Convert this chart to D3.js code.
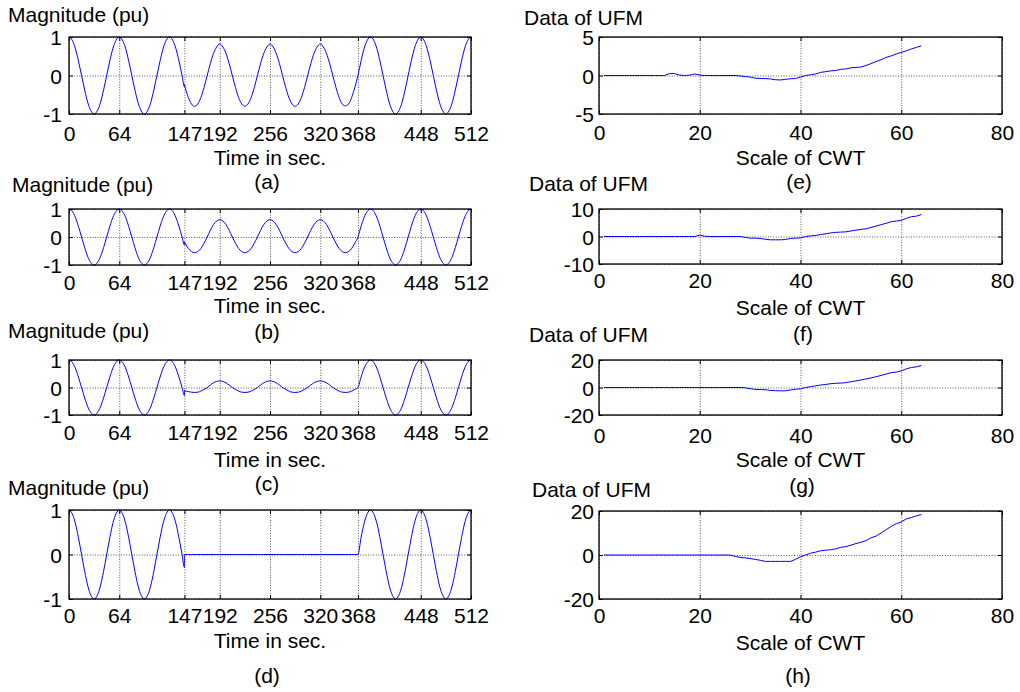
<!DOCTYPE html>
<html>
<head>
<meta charset="utf-8">
<script src="https://cdn.jsdelivr.net/npm/d3@7"></script>
<style>
  html, body { margin: 0; padding: 0; background: #fff; }
  svg { display: block; }
  text { font-family: "Liberation Sans", Arial, Helvetica, sans-serif; fill: #000; }
</style>
</head>
<body>
<svg id="chart" width="1020" height="692"></svg>
<script>
// ---------------- DATA ----------------
const timeTicks = [0, 64, 147, 192, 256, 320, 368, 448, 512];
const magTicks = [-1, 0, 1];
const scaleTicks = [0, 20, 40, 60, 80];

// sample positions (time index)
const headT = d3.range(0, 148, 4).concat([147]);      // 0..144, 147
const midT  = [147].concat(d3.range(148, 368, 4));    // 147, 148..364
const tailT = d3.range(368, 513, 4);                  // 368..512

// common leading / trailing portion of the signal (identical in a-d)
const headVals = [1,.92,.71,.38,0,-.38,-.71,-.92,-1,-.92,-.71,-.38,0,.38,.71,.92,
                  1,.92,.71,.38,0,-.38,-.71,-.92,-1,-.92,-.71,-.38,0,.38,.71,.92,
                  1,.92,.71,.38,0,-.29];
const tailVals = [0,.38,.71,.92,1,.92,.71,.38,0,-.38,-.71,-.92,-1,-.92,-.71,-.38,
                  0,.38,.71,.92,1,.92,.71,.38,0,-.38,-.71,-.92,-1,-.92,-.71,-.38,
                  0,.38,.71,.92,1];

// disturbed middle portion (147..364)
const midA = [-.23,
  -.31,-.57,-.74,-.8,-.74,-.57,-.31,0,.31,.57,.74,.82,.74,.57,.31,0,
  -.31,-.57,-.74,-.8,-.74,-.57,-.31,0,.31,.57,.74,.82,.74,.57,.31,0,
  -.31,-.57,-.74,-.8,-.74,-.57,-.31,0,.31,.57,.74,.82,.74,.57,.31,0,
  -.31,-.57,-.74,-.79,-.74,-.57,-.31];
const midB = [-.17,
  -.22,-.41,-.52,-.56,-.52,-.41,-.22,0,.24,.44,.57,.62,.57,.44,.24,0,
  -.22,-.41,-.52,-.56,-.52,-.41,-.22,0,.24,.44,.57,.62,.57,.44,.24,0,
  -.22,-.41,-.52,-.56,-.52,-.41,-.22,0,.24,.44,.57,.62,.57,.44,.24,0,
  -.22,-.41,-.52,-.56,-.52,-.41,-.22];
const midC = [-.1,
  -.12,-.15,-.17,-.18,-.17,-.13,-.07,0,.09,.17,.22,.24,.22,.17,.09,0,
  -.07,-.13,-.17,-.18,-.17,-.13,-.07,0,.09,.17,.22,.24,.22,.17,.09,0,
  -.07,-.13,-.17,-.18,-.17,-.13,-.07,0,.09,.17,.22,.24,.22,.17,.09,0,
  -.07,-.13,-.17,-.18,-.17,-.13,-.07];
const midD = [0,
  0,0,0,0,0,0,0,0,0,0,0,0,0,0,0,0,
  0,0,0,0,0,0,0,0,0,0,0,0,0,0,0,0,
  0,0,0,0,0,0,0,0,0,0,0,0,0,0,0,0,
  0,0,0,0,0,0,0];

// UFM data versus CWT scale (scale 1..64)
const cwtScale = d3.range(1, 65);
const ufmE = [0,0,0,0,0,0,0,0,0,0,0,0,0,.25,.25,.05,0,.05,.2,.05,
  0,0,0,0,0,0,0,-.05,-.15,-.2,-.35,-.38,-.4,-.45,-.55,-.58,-.5,-.42,-.4,-.2,
  0,.1,.2,.4,.5,.6,.65,.8,.85,1,1.05,1.1,1.3,1.55,1.8,2.05,2.35,2.55,2.8,3,
  3.2,3.45,3.65,3.85];
const ufmF = [0,0,0,0,0,0,0,0,0,0,0,0,0,0,0,0,0,0,0,.5,
  .1,0,0,0,0,0,0,0,-.3,-.6,-.6,-.7,-1,-1.2,-1.2,-1.2,-1.1,-.7,-.6,-.5,
  0,.2,.4,.7,1,1.3,1.5,1.6,1.7,2,2.3,2.6,2.8,3.3,3.8,4.3,4.8,5.4,5.6,5.9,
  6.6,7.2,7.4,8];
const ufmG = [0,0,0,0,0,0,0,0,0,0,0,0,0,0,0,0,0,0,0,0,
  0,0,0,0,0,0,0,0,-.2,-.8,-1.4,-1.5,-1.6,-2.1,-2.3,-2.4,-2.4,-1.8,-1.3,-1,
  0,.6,1.2,1.8,2.2,2.8,3.1,3.2,3.5,4.2,4.8,5.5,6.2,7,7.8,8.8,9.8,10.8,11.2,12.1,
  13.5,14.6,15,16];
const ufmH = [0,0,0,0,0,0,0,0,0,0,0,0,0,0,0,0,0,0,0,0,
  0,0,0,0,0,0,-.6,-1.1,-1.3,-1.6,-2,-2.4,-2.9,-2.9,-2.9,-2.9,-2.9,-2.9,-2,-.8,
  0,.8,1.3,1.9,2.2,2.4,2.8,3.5,3.8,4.5,5.2,5.8,6.5,7.8,8.6,10,11.5,13,14.2,15,
  16.4,17,17.8,18.4];

const ufmDomains = { e: [-5, 5], f: [-10, 10], g: [-20, 20], h: [-20, 20] };
const ufmTicks   = { e: [-5, 0, 5], f: [-10, 0, 10], g: [-20, 0, 20], h: [-20, 0, 20] };

// ---------------- LAYOUT ----------------
const L = { x0: 69, x1: 471, pad: 7, capX: 267 };
const R = { x0: 599, x1: 1002, pad: 5 };

const leftPanels = [
  { id: 'a', mid: midA, top: 37,  bottom: 114, ylx: 8,  yly: 22,  tickY: 141, xlabY: 165, capY: 189 },
  { id: 'b', mid: midB, top: 209, bottom: 265, ylx: 12, yly: 192, tickY: 290, xlabY: 313, capY: 339 },
  { id: 'c', mid: midC, top: 360, bottom: 415, ylx: 8,  yly: 338, tickY: 440, xlabY: 467, capY: 491 },
  { id: 'd', mid: midD, top: 510, bottom: 599, ylx: 8,  yly: 495, tickY: 623, xlabY: 648, capY: 683 }
];
const rightPanels = [
  { id: 'e', vals: ufmE, top: 37,  bottom: 114, ylx: 524, yly: 25,  tickY: 140, xlabY: 165, capY: 189, capX: 799 },
  { id: 'f', vals: ufmF, top: 209, bottom: 264, ylx: 529, yly: 191, tickY: 288, xlabY: 315, capY: 341, capX: 803 },
  { id: 'g', vals: ufmG, top: 360, bottom: 415, ylx: 529, yly: 342, tickY: 443, xlabY: 467, capY: 493, capX: 802 },
  { id: 'h', vals: ufmH, top: 511, bottom: 599, ylx: 532, yly: 497, tickY: 623, xlabY: 650, capY: 683, capX: 798 }
];

const FS = 21;
const svg = d3.select('#chart');
const plain = d => String(d);   // hyphen-minus like the reference

function drawFrame(g, x, y, xTicks, yTicks, x0, x1, top, bottom, tickY, pad) {
  const w = x1 - x0, h = bottom - top;
  // grid
  const grid = g.append('g').attr('class', 'grid');
  grid.append('g').attr('transform', `translate(0,${bottom})`)
    .call(d3.axisBottom(x).tickValues(xTicks).tickSize(-h).tickFormat('').tickSizeOuter(0))
    .call(s => s.select('.domain').remove());
  grid.append('g').attr('transform', `translate(${x0},0)`)
    .call(d3.axisLeft(y).tickValues(yTicks).tickSize(-w).tickFormat('').tickSizeOuter(0))
    .call(s => s.select('.domain').remove());
  grid.selectAll('line').attr('stroke', '#444').attr('stroke-width', 0.9).attr('stroke-dasharray', '1,1.6');

  // tick axes (inward ticks)
  const bx = g.append('g').attr('transform', `translate(0,${bottom})`)
    .call(d3.axisBottom(x).tickValues(xTicks).tickSize(-4).tickSizeOuter(0).tickFormat(plain));
  bx.selectAll('text').attr('y', tickY - bottom).attr('dy', null).style('font-size', FS + 'px');
  const tx = g.append('g').attr('transform', `translate(0,${top})`)
    .call(d3.axisTop(x).tickValues(xTicks).tickSize(-4).tickSizeOuter(0).tickFormat(''));
  const ly = g.append('g').attr('transform', `translate(${x0},0)`)
    .call(d3.axisLeft(y).tickValues(yTicks).tickSize(-4).tickPadding(pad + 4).tickSizeOuter(0).tickFormat(plain));
  ly.selectAll('text').attr('x', -pad).attr('dy', '0.36em').style('font-size', FS + 'px');
  const ry = g.append('g').attr('transform', `translate(${x1},0)`)
    .call(d3.axisRight(y).tickValues(yTicks).tickSize(-4).tickSizeOuter(0).tickFormat(''));
  [bx, tx, ly, ry].forEach(a => {
    a.select('.domain').remove();
    a.selectAll('line').attr('stroke', '#000').attr('stroke-width', 1);
    a.selectAll('text').attr('fill', '#000').style('font-family', '"Liberation Sans", Arial, sans-serif');
  });
}

function drawBox(g, x0, x1, top, bottom) {
  g.append('rect').attr('x', x0).attr('y', top).attr('width', x1 - x0).attr('height', bottom - top)
    .attr('fill', 'none').attr('stroke', '#000').attr('stroke-width', 1.3);
}

// ---------- left column ----------
leftPanels.forEach(p => {
  const g = svg.append('g');
  const x = d3.scaleLinear().domain([0, 512]).range([L.x0, L.x1]);
  const y = d3.scaleLinear().domain([-1, 1]).range([p.bottom, p.top]);
  drawFrame(g, x, y, timeTicks, magTicks, L.x0, L.x1, p.top, p.bottom, p.tickY, L.pad);

  const pts = headT.map((t, i) => [t, headVals[i]])
    .concat(midT.map((t, i) => [t, p.mid[i]]))
    .concat(tailT.map((t, i) => [t, tailVals[i]]));
  const line = d3.line().x(d => x(d[0])).y(d => y(d[1])).curve(d3.curveMonotoneX);
  g.append('path').datum(pts).attr('d', line)
    .attr('fill', 'none').attr('stroke', '#0000ff').attr('stroke-width', 1);
  drawBox(g, L.x0, L.x1, p.top, p.bottom);

  g.append('text').attr('x', p.ylx).attr('y', p.yly).style('font-size', FS + 'px').text('Magnitude (pu)');
  g.append('text').attr('x', (L.x0 + L.x1) / 2).attr('y', p.xlabY).attr('text-anchor', 'middle')
    .style('font-size', FS + 'px').text('Time in sec.');
  g.append('text').attr('x', L.capX).attr('y', p.capY).attr('text-anchor', 'middle')
    .style('font-size', FS + 'px').text('(' + p.id + ')');
});

// ---------- right column ----------
rightPanels.forEach(p => {
  const g = svg.append('g');
  const x = d3.scaleLinear().domain([0, 80]).range([R.x0, R.x1]);
  const y = d3.scaleLinear().domain(ufmDomains[p.id]).range([p.bottom, p.top]);
  drawFrame(g, x, y, scaleTicks, ufmTicks[p.id], R.x0, R.x1, p.top, p.bottom, p.tickY, R.pad);

  const pts = cwtScale.map((s, i) => [s, p.vals[i]]);
  const line = d3.line().x(d => x(d[0])).y(d => y(d[1]));
  g.append('path').datum(pts).attr('d', line)
    .attr('fill', 'none').attr('stroke', '#0000ff').attr('stroke-width', 1);
  drawBox(g, R.x0, R.x1, p.top, p.bottom);

  g.append('text').attr('x', p.ylx).attr('y', p.yly).style('font-size', FS + 'px').text('Data of UFM');
  g.append('text').attr('x', (R.x0 + R.x1) / 2).attr('y', p.xlabY).attr('text-anchor', 'middle')
    .style('font-size', FS + 'px').text('Scale of CWT');
  g.append('text').attr('x', p.capX).attr('y', p.capY).attr('text-anchor', 'middle')
    .style('font-size', FS + 'px').text('(' + p.id + ')');
});
</script>
</body>
</html>
